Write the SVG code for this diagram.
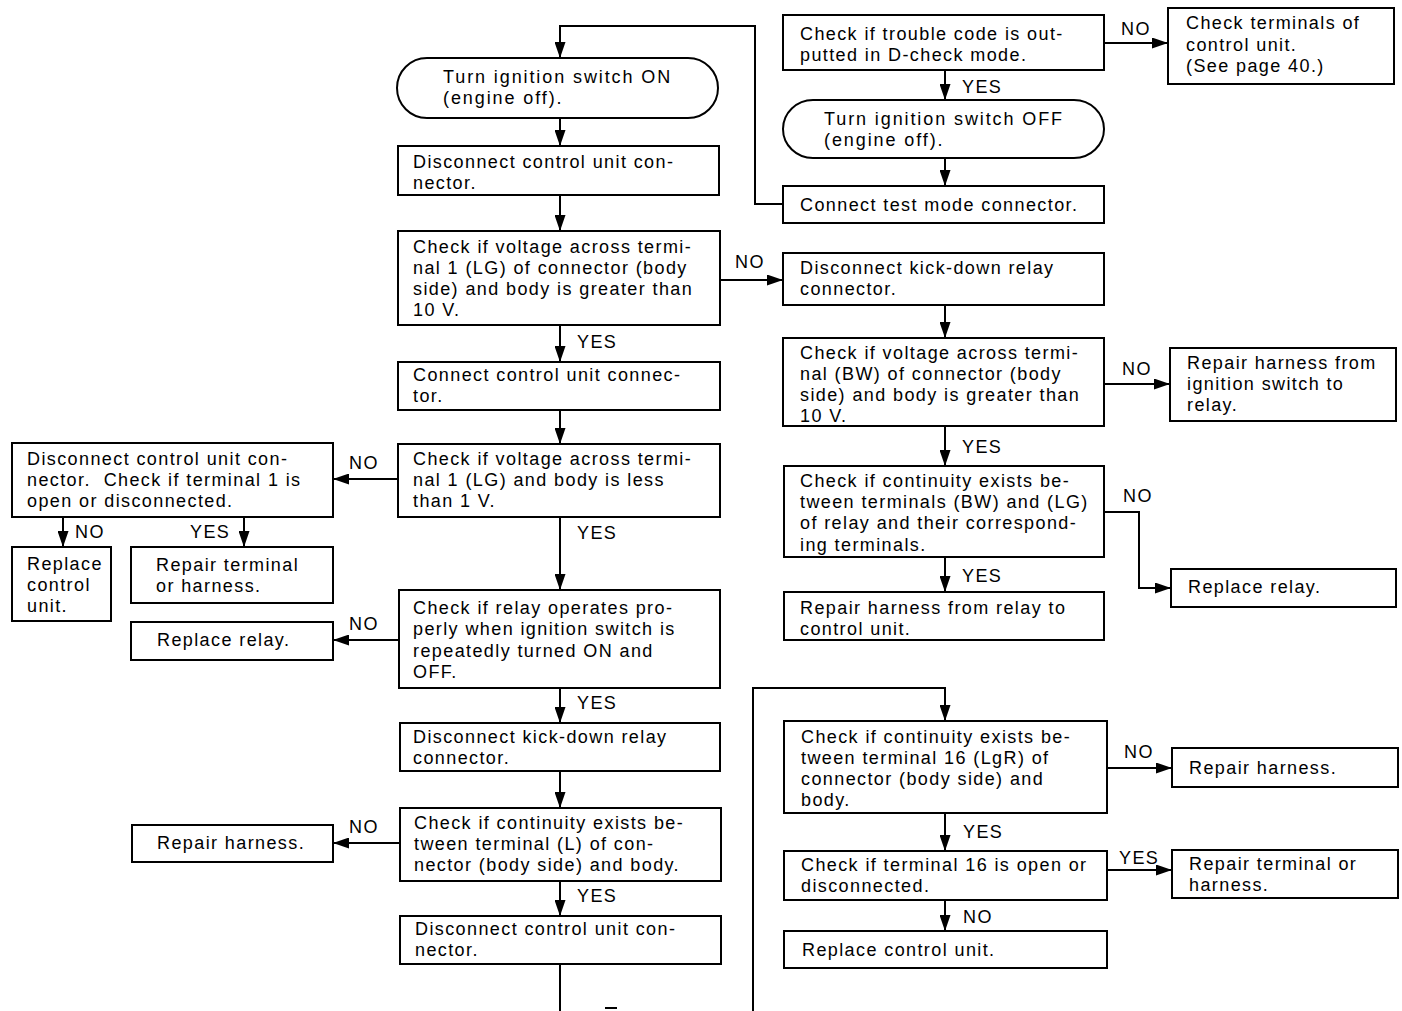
<svg xmlns="http://www.w3.org/2000/svg" width="1402" height="1011" viewBox="0 0 1402 1011">
<style>
.b{fill:#fff;stroke:#000;stroke-width:2}
.c{fill:none;stroke:#000;stroke-width:2}
text{font-family:"Liberation Sans",Arial,sans-serif;font-size:18px;letter-spacing:1.4px;fill:#000}
.w{letter-spacing:1.9px}
</style>
<defs>
<marker id="a" markerUnits="userSpaceOnUse" markerWidth="16" markerHeight="11" refX="15" refY="5.5" orient="auto">
<path d="M0,0 L16,5.5 L0,11 z" fill="#000"/>
</marker>
</defs>
<rect width="1402" height="1011" fill="#fff"/>
<g id="connectors">
<path class="c" d="M783,204 H755 V26 H560 V57" marker-end="url(#a)"/>
<path class="c" d="M560,118 V145" marker-end="url(#a)"/>
<path class="c" d="M560,195 V230" marker-end="url(#a)"/>
<path class="c" d="M560,325 V361" marker-end="url(#a)"/>
<path class="c" d="M560,410 V443" marker-end="url(#a)"/>
<path class="c" d="M560,517 V589" marker-end="url(#a)"/>
<path class="c" d="M560,688 V722" marker-end="url(#a)"/>
<path class="c" d="M560,771 V807" marker-end="url(#a)"/>
<path class="c" d="M560,881 V915" marker-end="url(#a)"/>
<path class="c" d="M560,964 V1011"/>
<path class="c" d="M605,1008 H617"/>
<path class="c" d="M753,1011 V688 H945 V720" marker-end="url(#a)"/>
<path class="c" d="M398,479 H334" marker-end="url(#a)"/>
<path class="c" d="M63,517 V546" marker-end="url(#a)"/>
<path class="c" d="M244,517 V546" marker-end="url(#a)"/>
<path class="c" d="M399,640 H334" marker-end="url(#a)"/>
<path class="c" d="M400,843 H334" marker-end="url(#a)"/>
<path class="c" d="M720,280 H782" marker-end="url(#a)"/>
<path class="c" d="M1104,43 H1167" marker-end="url(#a)"/>
<path class="c" d="M945,70 V99" marker-end="url(#a)"/>
<path class="c" d="M945,158 V185" marker-end="url(#a)"/>
<path class="c" d="M945,305 V337" marker-end="url(#a)"/>
<path class="c" d="M1104,384 H1169" marker-end="url(#a)"/>
<path class="c" d="M945,426 V465" marker-end="url(#a)"/>
<path class="c" d="M1104,512 H1139 V588 H1170" marker-end="url(#a)"/>
<path class="c" d="M945,557 V591" marker-end="url(#a)"/>
<path class="c" d="M1107,768 H1171" marker-end="url(#a)"/>
<path class="c" d="M945,813 V850" marker-end="url(#a)"/>
<path class="c" d="M1107,870 H1171" marker-end="url(#a)"/>
<path class="c" d="M945,900 V930" marker-end="url(#a)"/>
<text x="1121" y="35">NO</text>
<text x="962" y="93">YES</text>
<text x="735" y="268">NO</text>
<text x="577" y="348">YES</text>
<text x="1122" y="375">NO</text>
<text x="962" y="453">YES</text>
<text x="1123" y="502">NO</text>
<text x="962" y="582">YES</text>
<text x="349" y="469">NO</text>
<text x="75" y="538">NO</text>
<text x="190" y="538">YES</text>
<text x="577" y="539">YES</text>
<text x="349" y="630">NO</text>
<text x="577" y="709">YES</text>
<text x="349" y="833">NO</text>
<text x="577" y="902">YES</text>
<text x="1124" y="758">NO</text>
<text x="963" y="838">YES</text>
<text x="1119" y="864">YES</text>
<text x="963" y="923">NO</text>
</g>
<g id="n1"><rect class="b" x="397" y="58" width="321" height="60" rx="30" ry="30"/><text class="w" x="443" y="83">Turn ignition switch ON</text><text class="w" x="443" y="104">(engine off).</text></g>
<g id="n2"><rect class="b" x="398" y="146" width="321" height="49"/><text x="413" y="168">Disconnect control unit con-</text><text x="413" y="189">nector.</text></g>
<g id="n3"><rect class="b" x="398" y="231" width="322" height="94"/><text x="413" y="253">Check if voltage across termi-</text><text x="413" y="274">nal 1 (LG) of connector (body</text><text x="413" y="295">side) and body is greater than</text><text x="413" y="316">10 V.</text></g>
<g id="n4"><rect class="b" x="398" y="362" width="322" height="48"/><text x="413" y="381">Connect control unit connec-</text><text x="413" y="402">tor.</text></g>
<g id="n5"><rect class="b" x="398" y="444" width="322" height="73"/><text x="413" y="465">Check if voltage across termi-</text><text x="413" y="486">nal 1 (LG) and body is less</text><text x="413" y="507">than 1 V.</text></g>
<g id="n6"><rect class="b" x="399" y="590" width="321" height="98"/><text x="413" y="614">Check if relay operates pro-</text><text x="413" y="635">perly when ignition switch is</text><text x="413" y="657">repeatedly turned ON and</text><text x="413" y="678">OFF.</text></g>
<g id="n7"><rect class="b" x="400" y="723" width="320" height="48"/><text x="413" y="743">Disconnect kick-down relay</text><text x="413" y="764">connector.</text></g>
<g id="n8"><rect class="b" x="400" y="808" width="321" height="73"/><text x="414" y="829">Check if continuity exists be-</text><text x="414" y="850">tween terminal (L) of con-</text><text x="414" y="871">nector (body side) and body.</text></g>
<g id="n9"><rect class="b" x="400" y="916" width="321" height="48"/><text x="415" y="935">Disconnect control unit con-</text><text x="415" y="956">nector.</text></g>
<g id="n10"><rect class="b" x="12" y="443" width="321" height="74"/><text x="27" y="465">Disconnect control unit con-</text><text x="27" y="486" xml:space="preserve">nector.  Check if terminal 1 is</text><text x="27" y="507">open or disconnected.</text></g>
<g id="n11"><rect class="b" x="12" y="547" width="99" height="74"/><text x="27" y="570">Replace</text><text x="27" y="591">control</text><text x="27" y="612">unit.</text></g>
<g id="n12"><rect class="b" x="131" y="547" width="202" height="56"/><text x="156" y="571">Repair terminal</text><text x="156" y="592">or harness.</text></g>
<g id="n13"><rect class="b" x="131" y="622" width="202" height="38"/><text x="157" y="646">Replace relay.</text></g>
<g id="n14"><rect class="b" x="132" y="825" width="201" height="37"/><text x="157" y="849">Repair harness.</text></g>
<g id="n15"><rect class="b" x="783" y="15" width="321" height="55"/><text x="800" y="40">Check if trouble code is out-</text><text x="800" y="61">putted in D-check mode.</text></g>
<g id="n16"><rect class="b" x="1168" y="8" width="226" height="76"/><text x="1186" y="29">Check terminals of</text><text x="1186" y="51">control unit.</text><text x="1186" y="72">(See page 40.)</text></g>
<g id="n17"><rect class="b" x="783" y="100" width="321" height="58" rx="30" ry="29"/><text class="w" x="824" y="125">Turn ignition switch OFF</text><text class="w" x="824" y="146">(engine off).</text></g>
<g id="n18"><rect class="b" x="783" y="186" width="321" height="37"/><text x="800" y="211">Connect test mode connector.</text></g>
<g id="n19"><rect class="b" x="783" y="253" width="321" height="52"/><text x="800" y="274">Disconnect kick-down relay</text><text x="800" y="295">connector.</text></g>
<g id="n20"><rect class="b" x="783" y="338" width="321" height="88"/><text x="800" y="359">Check if voltage across termi-</text><text x="800" y="380">nal (BW) of connector (body</text><text x="800" y="401">side) and body is greater than</text><text x="800" y="422">10 V.</text></g>
<g id="n21"><rect class="b" x="1170" y="348" width="226" height="73"/><text x="1187" y="369">Repair harness from</text><text x="1187" y="390">ignition switch to</text><text x="1187" y="411">relay.</text></g>
<g id="n22"><rect class="b" x="784" y="466" width="320" height="91"/><text x="800" y="487">Check if continuity exists be-</text><text x="800" y="508">tween terminals (BW) and (LG)</text><text x="800" y="529">of relay and their correspond-</text><text x="800" y="551">ing terminals.</text></g>
<g id="n23"><rect class="b" x="1171" y="569" width="225" height="38"/><text x="1188" y="593">Replace relay.</text></g>
<g id="n24"><rect class="b" x="784" y="592" width="320" height="48"/><text x="800" y="614">Repair harness from relay to</text><text x="800" y="635">control unit.</text></g>
<g id="n25"><rect class="b" x="784" y="721" width="323" height="92"/><text x="801" y="743">Check if continuity exists be-</text><text x="801" y="764">tween terminal 16 (LgR) of</text><text x="801" y="785">connector (body side) and</text><text x="801" y="806">body.</text></g>
<g id="n26"><rect class="b" x="1172" y="748" width="226" height="39"/><text x="1189" y="774">Repair harness.</text></g>
<g id="n27"><rect class="b" x="784" y="851" width="323" height="49"/><text x="801" y="871">Check if terminal 16 is open or</text><text x="801" y="892">disconnected.</text></g>
<g id="n28"><rect class="b" x="1172" y="850" width="226" height="48"/><text x="1189" y="870">Repair terminal or</text><text x="1189" y="891">harness.</text></g>
<g id="n29"><rect class="b" x="784" y="931" width="323" height="37"/><text x="802" y="956">Replace control unit.</text></g>
</svg>
